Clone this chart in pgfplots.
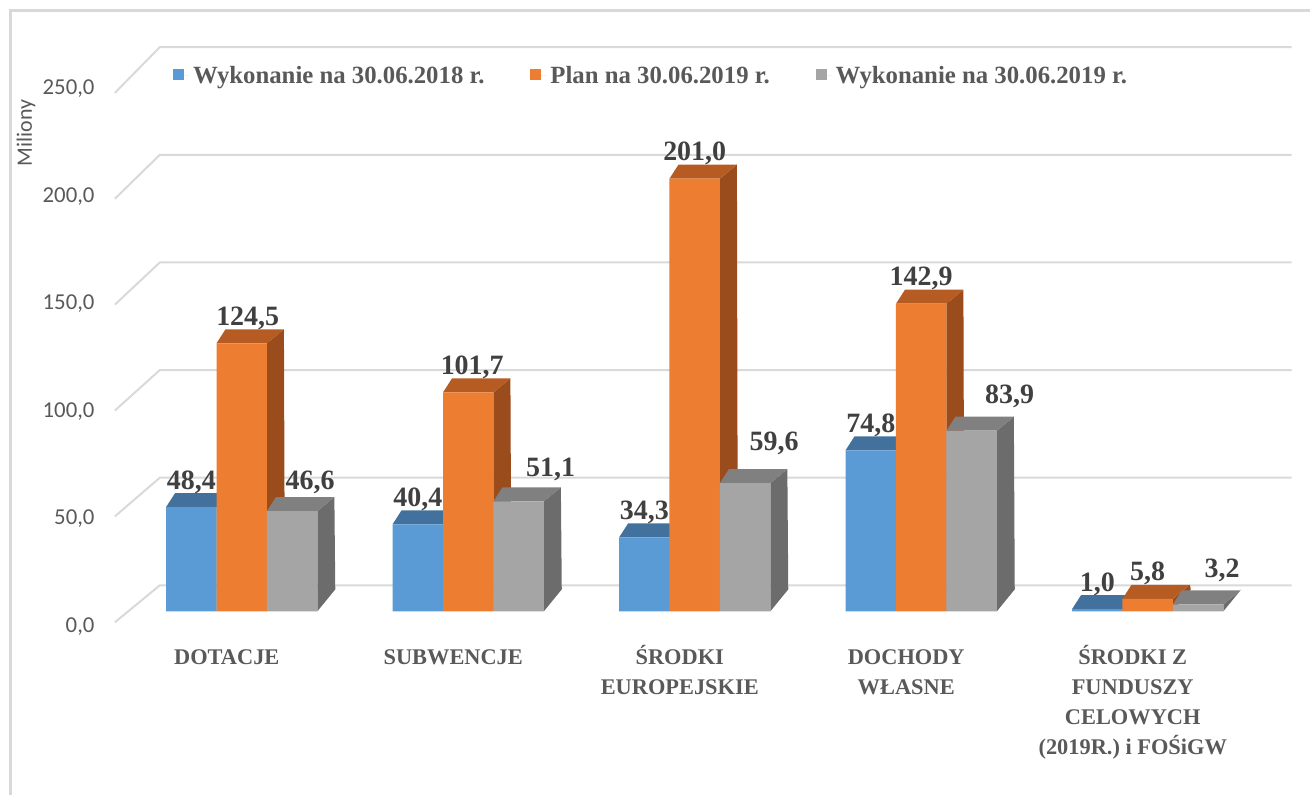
\documentclass[border=0pt]{standalone}
\usepackage{pgfplots}
\pgfplotsset{compat=1.18}
\usepackage{pgfplotstable}
\usepackage{fontspec}
\setmainfont{Liberation Serif}
\newfontfamily\carlito{Carlito}
\definecolor{cBlue}{HTML}{5B9BD5}
\definecolor{cBlueTop}{HTML}{41719C}
\definecolor{cBlueSide}{HTML}{3A6590}
\definecolor{cOrange}{HTML}{ED7D31}
\definecolor{cOrangeTop}{HTML}{B65C22}
\definecolor{cOrangeSide}{HTML}{9A4C1C}
\definecolor{cGray}{HTML}{A5A5A5}
\definecolor{cGrayTop}{HTML}{808080}
\definecolor{cGraySide}{HTML}{6C6C6C}
\definecolor{cGrid}{HTML}{D9D9D9}
\definecolor{cTxt}{HTML}{595959}
\definecolor{cLbl}{HTML}{404040}

% values; odx, gdx, gdy: label offsets (pt) of the orange and grey value labels
\pgfplotstableread{
cat a b c odx gdx gdy
0 48.4 124.5 46.6 3 9 2
1 40.4 101.7 51.1 2 16 3.5
2 34.3 201.0 59.6 0 14.5 7.5
3 74.8 142.9 83.9 0 19 4.5
4 1.0 5.8 3.2 0 12 4.5
}\data

\newcommand\tl{\rule{0pt}{12pt}}

% side and top faces of the bars of one series: column, shift, top colour, side colour
\newcommand\barfaces[4]{%
 \pgfplotsinvokeforeach{0,...,4}{%
   \pgfplotstablegetelem{##1}{#1}\of\data
   \edef\bval{\pgfplotsretval}%
   \pgfmathsetmacro\xl{##1+#2-0.11135}%
   \pgfmathsetmacro\xr{##1+#2+0.11135}%
   \pgfmathsetmacro\xlt{\xl+0.0397}%
   \pgfmathsetmacro\xrt{\xr+0.075}%
   \pgfmathsetmacro\xrb{\xr+0.079}%
   \pgfmathsetmacro\vt{\bval+6.5}%
   \edef\tmp{\noexpand\fill[#4] (axis cs:\xr,0) -- (axis cs:\xr,\bval) -- (axis cs:\xrt,\vt) -- (axis cs:\xrb,10.2) -- cycle;
     \noexpand\fill[#3] (axis cs:\xl,\bval) -- (axis cs:\xr,\bval) -- (axis cs:\xrt,\vt) -- (axis cs:\xlt,\vt) -- cycle;}%
   \tmp
 }%
}

\begin{document}
\begin{tikzpicture}
\begin{axis}[
 x=113.375pt, y=1.0775pt,
 xmin=-0.5, xmax=4.5, ymin=0, ymax=250,
 enlargelimits=false, clip=false,
 axis line style={draw=none},
 major tick style={draw=none}, minor tick style={draw=none},
 ybar, bar width=0.2227,
 xtick={0,...,4},
 xticklabels={\tl DOTACJE,\tl SUBWENCJE,{\tl ŚRODKI\\EUROPEJSKIE},{\tl DOCHODY\\WŁASNE},{\tl ŚRODKI Z\\FUNDUSZY\\CELOWYCH\\(2019R.) i FOŚiGW}},
 xticklabel style={align=center, anchor=north, inner sep=0pt, xshift=-7.5pt, yshift=-10pt, font=\bfseries\fontsize{11.2}{15}\selectfont, text=cTxt},
 ytick={0,50,...,250},
 yticklabel style={anchor=east, inner sep=0pt, xshift=-16.8pt, yshift=-7.7pt, font=\carlito\fontsize{11.4}{13}\selectfont, text=cTxt, /pgf/number format/fixed, /pgf/number format/fixed zerofill, /pgf/number format/precision=1, /pgf/number format/use comma},
 /pgf/number format/assume math mode=true,
 ylabel={Miliony},
 ylabel style={at={(axis description cs:-0.0905,0.889)}, anchor=center, font=\carlito\fontsize{11}{13}\selectfont, text=cTxt},
 nodes near coords={\pgfmathprintnumber[fixed,fixed zerofill,precision=1,use comma]{\pgfplotspointmeta}},
 every node near coord/.append style={anchor=base, yshift=9pt, font=\bfseries\fontsize{14}{16}\selectfont, text=cLbl, inner sep=0pt},
 legend columns=3,
 legend style={draw=none, fill=none, at={(axis cs:-0.3043,248.7)}, anchor=west, inner sep=0pt, font=\bfseries\fontsize{12.4}{14}\selectfont, text=cTxt, /tikz/every even column/.append style={column sep=21pt}},
 legend image code/.code={\fill[#1, draw=none] (0pt,-2pt) rectangle (5.5pt,3.5pt); \path (0pt,0pt) -- (8pt,0pt);},
]
% bounding box of the whole picture
\path (axis cs:-1.06726,-85.383) rectangle (axis cs:4.71444,283.99);
% outer frame
\draw[cGrid, line width=1.5pt] (axis cs:4.71444,278.9) -- (axis cs:-1.0187,278.9) -- (axis cs:-1.0187,-85.383);
% back-wall grid lines
\pgfplotsinvokeforeach{0,50,...,250}{%
  \pgfmathsetmacro\gf{-5.10+0.9838*#1}%
  \pgfmathsetmacro\gb{#1+12.07}%
  \edef\tmp{\noexpand\draw[cGrid, line width=1pt] (axis cs:-0.5601,\gf) -- (axis cs:-0.3616,\gb) -- (axis cs:4.635,\gb);}%
  \tmp
}
\barfaces{a}{-0.2227}{cBlueTop}{cBlueSide}
\addplot[fill=cBlue, draw=none, bar shift=-0.2227] table[x=cat, y=a]{\data};
\addlegendentry{Wykonanie na 30.06.2018 r.}
\barfaces{b}{0}{cOrangeTop}{cOrangeSide}
\addplot[fill=cOrange, draw=none, bar shift=0,
  visualization depends on={\thisrow{odx} \as \ldx},
  every node near coord/.append style={xshift=\ldx pt}] table[x=cat, y=b]{\data};
\addlegendentry{Plan na 30.06.2019 r.}
\barfaces{c}{0.2227}{cGrayTop}{cGraySide}
\addplot[fill=cGray, draw=none, bar shift=0.2227,
  visualization depends on={\thisrow{gdx} \as \ldx},
  visualization depends on={\thisrow{gdy} \as \ldy},
  every node near coord/.append style={xshift=\ldx pt, yshift=\ldy pt}] table[x=cat, y=c]{\data};
\addlegendentry{Wykonanie na 30.06.2019 r.}
\end{axis}
\end{tikzpicture}
\end{document}
